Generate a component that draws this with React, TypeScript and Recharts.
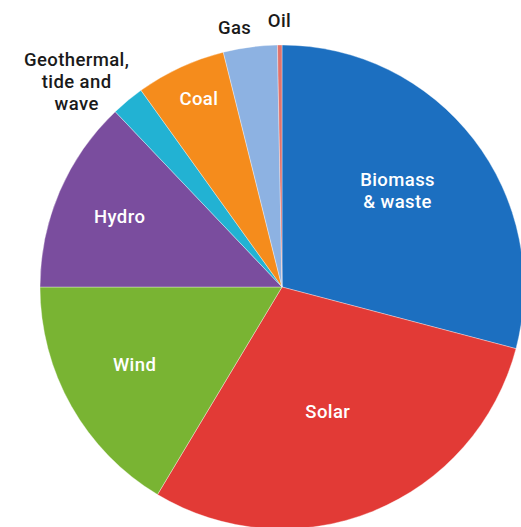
import React from 'react';
import { PieChart, Pie, Cell } from 'recharts';

const sources = ['Biomass & waste', 'Solar', 'Wind', 'Hydro', 'Geothermal, tide and wave', 'Coal', 'Gas', 'Oil'];
const shares = [29.1, 29.5, 16.4, 12.9, 2.2, 6.0, 3.6, 0.3];
const colors = ['#1c6fc0', '#e23a36', '#79b433', '#7a4d9e', '#22b2d3', '#f58c1c', '#8db2e2', '#e0736c'];

// label placement: radius as fraction of outer radius, extra angle, text colour, line breaks
const labelStyle: Record<string, { r: number; da: number; fill: string; lines: string[] }> = {
    'Biomass & waste': { r: 0.62, da: 2, fill: '#fff', lines: ['Biomass', '& waste'] },
    Solar: { r: 0.55, da: -2, fill: '#fff', lines: ['Solar'] },
    Wind: { r: 0.69, da: -1.5, fill: '#fff', lines: ['Wind'] },
    Hydro: { r: 0.73, da: 0, fill: '#fff', lines: ['Hydro'] },
    'Geothermal, tide and wave': { r: 1.2, da: 5.4, fill: '#1a1a1a', lines: ['Geothermal,', 'tide and', 'wave'] },
    Coal: { r: 0.85, da: -1, fill: '#fff', lines: ['Coal'] },
    Gas: { r: 1.09, da: 2.8, fill: '#1a1a1a', lines: ['Gas'] },
    Oil: { r: 1.1, da: 0, fill: '#1a1a1a', lines: ['Oil'] },
};

const data = sources.map((name, i) => ({ name, value: shares[i] }));
const RADIAN = Math.PI / 180;

const renderLabel = (props: any) => {
    const { cx, cy, midAngle, outerRadius, name } = props;
    const s = labelStyle[name];
    const a = (midAngle + s.da) * RADIAN;
    const x = cx + outerRadius * s.r * Math.cos(a);
    const y = cy - outerRadius * s.r * Math.sin(a);
    const lh = 22;
    const top = y - ((s.lines.length - 1) * lh) / 2;
    return (
        <g>
            {s.lines.map((l, i) => (
                <text
                    key={i}
                    x={x}
                    y={top + i * lh}
                    fill={s.fill}
                    textAnchor="middle"
                    dominantBaseline="central"
                    fontSize={18.5}
                    fontWeight={500}
                    letterSpacing={0.4}
                    fontFamily="Roboto, 'Noto Sans', sans-serif"
                >
                    {l}
                </text>
            ))}
        </g>
    );
};

const App: React.FC = () => {
    return (
        <div style={{ position: 'absolute', left: 0, top: 0, width: 521, height: 527, overflow: 'hidden', background: '#fff' }}>
            <PieChart width={521} height={527} margin={{ top: 0, right: 0, bottom: 0, left: 0 }}>
                <Pie
                    data={data}
                    dataKey="value"
                    nameKey="name"
                    cx={282}
                    cy={287}
                    outerRadius={242}
                    startAngle={90}
                    endAngle={-270}
                    label={renderLabel}
                    labelLine={false}
                    stroke="rgba(255,255,255,0.35)"
                    strokeWidth={1}
                    isAnimationActive={false}
                >
                    {data.map((d, i) => (
                        <Cell key={d.name} fill={colors[i]} />
                    ))}
                </Pie>
            </PieChart>
        </div>
    );
};

export default App;
